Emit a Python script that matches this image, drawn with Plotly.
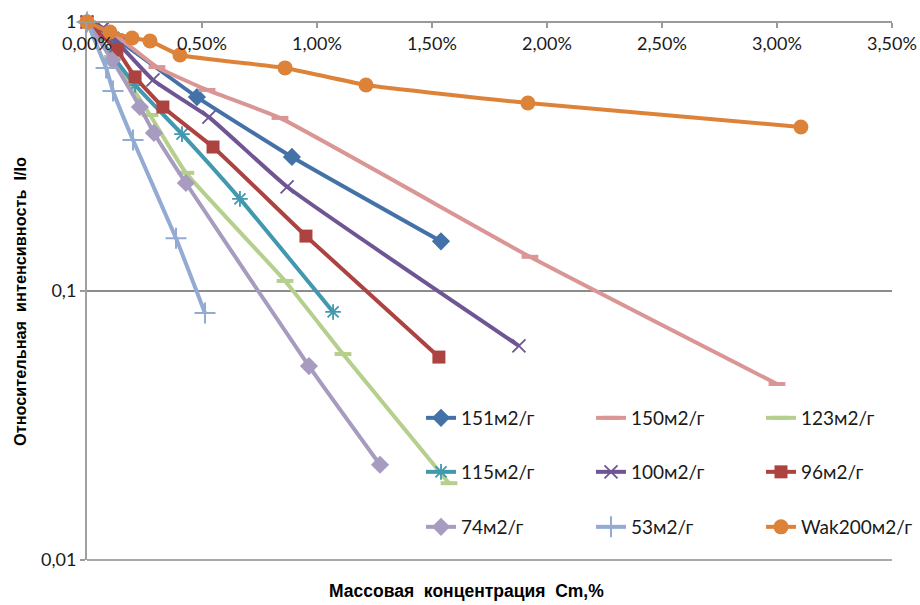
import plotly.graph_objects as go

# Mass concentration Cm (%) and relative intensity I/Io for each sample
c_151 = [0, 0.135, 0.478, 0.891, 1.539]
i_151 = [1, 0.857, 0.526, 0.315, 0.153]

c_150 = [0, 0.122, 0.304, 0.522, 0.839, 1.926, 3.000]
i_150 = [1, 0.895, 0.680, 0.559, 0.440, 0.134, 0.0451]

c_123 = [0, 0.109, 0.274, 0.430, 0.861, 1.113, 1.574]
i_123 = [1, 0.741, 0.451, 0.275, 0.109, 0.0583, 0.0193]

c_115 = [0, 0.209, 0.413, 0.665, 1.070]
i_115 = [1, 0.583, 0.383, 0.220, 0.0836]

c_100 = [0, 0.070, 0.287, 0.530, 0.870, 1.878]
i_100 = [1, 0.950, 0.609, 0.443, 0.244, 0.0625]

c_96 = [0, 0.130, 0.209, 0.330, 0.548, 0.952, 1.530]
i_96 = [1, 0.787, 0.625, 0.483, 0.343, 0.160, 0.0568]

c_74 = [0, 0.109, 0.230, 0.291, 0.430, 0.965, 1.274]
i_74 = [1, 0.722, 0.483, 0.387, 0.252, 0.0526, 0.0226]

c_53 = [0, 0.083, 0.113, 0.200, 0.387, 0.513]
i_53 = [1, 0.675, 0.554, 0.364, 0.157, 0.0828]

c_wak = [0, 0.100, 0.196, 0.274, 0.404, 0.861, 1.213, 1.917, 3.104]
i_wak = [1, 0.918, 0.872, 0.850, 0.754, 0.675, 0.583, 0.500, 0.407]

names = ["151м2/г", "150м2/г", "123м2/г",
         "115м2/г", "100м2/г", "96м2/г",
         "74м2/г", "53м2/г", "Wak200м2/г"]
conc = [c_151, c_150, c_123, c_115, c_100, c_96, c_74, c_53, c_wak]
inten = [i_151, i_150, i_123, i_115, i_100, i_96, i_74, i_53, i_wak]

y_ticks = [0.01, 0.1, 1]
y_tick_text = ["0,01", "0,1", "1"]

colors = ["#4472A8", "#D99694", "#B5CF8C", "#4298AE", "#6F5593",
          "#AD4341", "#A89BC0", "#93AAD2", "#DD8339"]
# (symbol, size, outline width)
markers = [
    ("diamond", 14, 0),
    ("line-ew", 12, 4),
    ("line-ew", 12, 4),
    ("asterisk-open", 13, 1.8),
    ("x-thin-open", 13, 1.8),
    ("square", 13, 0),
    ("diamond", 14, 0),
    ("cross-thin-open", 15, 2),
    ("circle", 15, 0),
]

LABEL_FONT = "Lato, 'Open Sans', sans-serif"
TITLE_FONT = "'Liberation Sans', Arial, sans-serif"
AXIS_GREY = "#9a9a9a"

# plot area in pixels
W, H = 920, 605
L, R, T, B = 87, 28, 22, 45
PW, PH = W - L - R, H - T - B


def px_x(px):
    return (px - L) / PW


def px_y(py):
    return (H - B - py) / PH


fig = go.Figure()

for k, (name, xs, ys, col, mk) in enumerate(zip(names, conc, inten, colors, markers)):
    sym, size, lw = mk
    fig.add_trace(go.Scatter(
        x=[v / 100 for v in xs], y=ys, name=name,
        mode="lines+markers",
        line=dict(color=col, width=4, shape="spline", smoothing=0.4),
        marker=dict(symbol=sym, size=size, color=col,
                    line=dict(color=col, width=lw)),
        cliponaxis=False,
        legend="legend" if k == 0 else f"legend{k + 1}",
    ))

# legend laid out as a 3x3 grid inside the plot area
text_x = [462, 632, 802]
row_y = [418, 472, 527]
legends = {}
for k in range(len(names)):
    r, c = divmod(k, 3)
    key = "legend" if k == 0 else f"legend{k + 1}"
    legends[key] = dict(
        x=px_x(text_x[c] - 41), y=px_y(row_y[r]),
        xanchor="left", yanchor="middle",
        bgcolor="rgba(0,0,0,0)", borderwidth=0,
        font=dict(family=LABEL_FONT, size=19, color="#1a1a1a"),
    )

fig.update_layout(
    width=W, height=H,
    margin=dict(l=L, r=R, t=T, b=B, autoexpand=False),
    paper_bgcolor="white", plot_bgcolor="white",
    separators=",.",
    showlegend=True,
    # the concentration axis crosses at I/Io = 1, labels hang below it
    xaxis=dict(
        range=[0, 0.035], anchor="free", position=1, side="bottom",
        dtick=0.005, tickformat=".2%", automargin=False,
        ticks="outside", ticklen=5, tickwidth=1.5, tickcolor=AXIS_GREY,
        showline=True, linecolor=AXIS_GREY, linewidth=2,
        showgrid=False, zeroline=False,
        tickfont=dict(family=LABEL_FONT, size=18, color="#1a1a1a"),
    ),
    yaxis=dict(
        type="log", range=[-2, 0], automargin=False,
        tickvals=y_ticks, ticktext=y_tick_text,
        ticks="outside", ticklen=5, tickwidth=1.5, tickcolor=AXIS_GREY,
        showline=True, linecolor="#a0a0a0", linewidth=2,
        showgrid=True, gridcolor="#8c8c8c", gridwidth=1.5,
        zeroline=False,
        tickfont=dict(family=LABEL_FONT, size=18, color="#1a1a1a"),
    ),
    shapes=[
        # closing line along the bottom of the plot area (the 0,01 level)
        dict(type="line", xref="paper", x0=0, x1=1, yref="paper",
             y0=0, y1=0, line=dict(color="#8c8c8c", width=1.5),
             layer="above"),
    ],
    annotations=[
        dict(text="Массовая\u00a0\u00a0концентрация\u00a0\u00a0Cm,%",
             xref="paper", yref="paper", x=px_x(466), y=px_y(591),
             showarrow=False, xanchor="center", yanchor="middle",
             font=dict(family=TITLE_FONT, size=17.5, color="#000000",
                       weight="bold")),
        dict(text="Относительная\u00a0\u00a0интенсивность\u00a0\u00a0I/Io",
             xref="paper", yref="paper", x=px_x(20), y=px_y(302),
             showarrow=False, textangle=-90, xanchor="center", yanchor="middle",
             font=dict(family=TITLE_FONT, size=16.3, color="#000000",
                       weight="bold")),
    ],
    **legends,
)

fig.write_html("out.html")
